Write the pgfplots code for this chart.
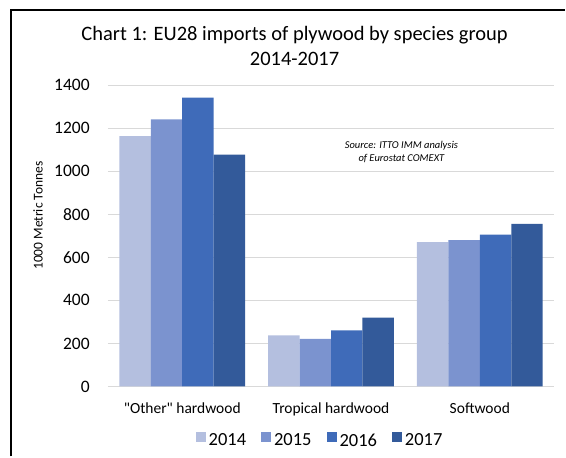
\documentclass[border=0pt]{standalone}
\usepackage{pgfplots}
\pgfplotsset{compat=1.18}
\usepackage{fontspec}
\setmainfont{Carlito}
% straight double quote, bypassing the TeX quote ligatures
\newcommand\sq{\XeTeXglyph\the\XeTeXcharglyph"22\relax}

\definecolor{c2014}{HTML}{B4BFDF}
\definecolor{c2015}{HTML}{7B93CF}
\definecolor{c2016}{HTML}{3F6BB9}
\definecolor{c2017}{HTML}{335A9A}
\definecolor{gridgrey}{HTML}{D9D9D9}

\begin{document}
\begin{tikzpicture}[x=1bp,y=1bp]
% page extent and outer frame
\path (0,0) rectangle (566,457);
\draw[line width=1.6bp,black] (11,0) -- (11,447) -- (566,447);

% title
\node[font=\fontsize{20.5bp}{24bp}\selectfont, anchor=base] at (295,416) {Chart 1: EU28 imports of plywood by species group};
\node[font=\fontsize{20.5bp}{24bp}\selectfont, anchor=base] at (295,391) {2014-2017};

% y axis title
\node[font=\fontsize{13.5bp}{15bp}\selectfont, rotate=90, anchor=center] at (38,241) {1000 Metric Tonnes};

\begin{axis}[
  at={(108bp,70bp)}, anchor=south west,
  scale only axis, width=447bp, height=301.7bp,
  ymin=0, ymax=1400, ytick={0,200,...,1400},
  xmin=-0.5, xmax=2.5,
  xtick={0,1,2}, xticklabels={\sq Other\sq{} hardwood, Tropical hardwood, Softwood},
  ybar=0pt, bar width=31.5bp,
  axis line style={draw=none},
  ymajorgrids, grid style={gridgrey, line width=0.9bp},
  major tick length=0pt,
  /pgf/number format/assume math mode=true,
  /pgf/number format/1000 sep={},
  yticklabel style={font=\fontsize{17.5bp}{19bp}\selectfont, anchor=east, inner sep=0pt,
    text width=40bp, align=right, xshift=-18bp},
  xticklabel style={font=\fontsize{15.5bp}{18bp}\selectfont, anchor=base, yshift=-27bp},
  legend style={at={(0.4765,-0.18)}, anchor=center, draw=none, fill=none,
    legend columns=4, font=\fontsize{18.5bp}{20bp}\selectfont,
    nodes={inner xsep=3bp},
    /tikz/every even column/.append style={column sep=12bp}},
  legend cell align=left,
  clip=false,
]
\addplot[fill=c2014, draw=none, legend image code/.code={\fill[c2014] (0bp,-1bp) rectangle (10bp,9bp);}]
  coordinates {(0,1163) (1,237) (2,671)};
\addplot[fill=c2015, draw=none, legend image code/.code={\fill[c2015] (0bp,-1bp) rectangle (10bp,9bp);}]
  coordinates {(0,1241) (1,221) (2,680)};
\addplot[fill=c2016, draw=none, legend image code/.code={\fill[c2016] (0bp,-1bp) rectangle (10bp,9bp);}]
  coordinates {(0,1342) (1,260) (2,705)};
\addplot[fill=c2017, draw=none, legend image code/.code={\fill[c2017] (0bp,-1bp) rectangle (10bp,9bp);}]
  coordinates {(0,1077) (1,320) (2,755)};
\legend{2014,2015,2016,2017}
\end{axis}

% source note
\node[font=\fontsize{10.5bp}{13bp}\selectfont\itshape, align=center] at (402,305) {Source: ITTO IMM analysis\\of Eurostat COMEXT};
\end{tikzpicture}
\end{document}
